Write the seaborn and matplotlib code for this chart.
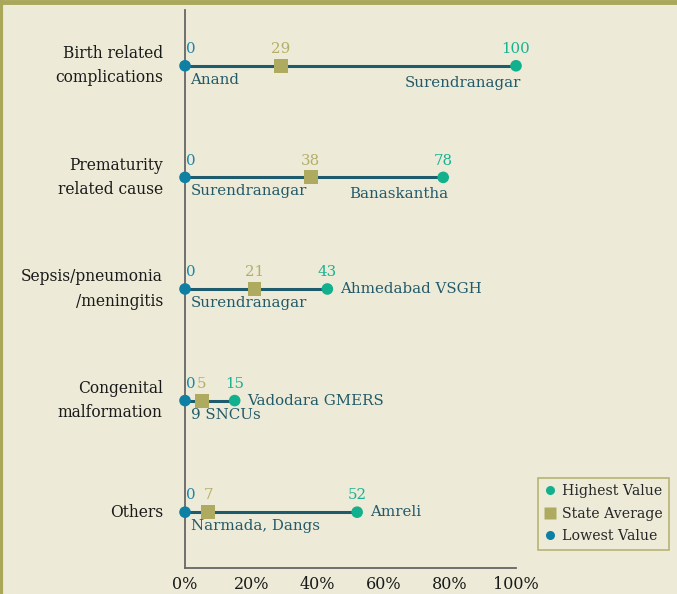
import matplotlib
matplotlib.use("Agg")
import matplotlib.pyplot as plt
from matplotlib.lines import Line2D
import pandas as pd
import seaborn as sns

# ── Data ────────────────────────────────────────────────────────────────────
causes = ["Birth related\ncomplications", "Prematurity\nrelated cause",
          "Sepsis/pneumonia\n/meningitis", "Congenital\nmalformation", "Others"]
lowest = [0, 0, 0, 0, 0]
average = [29, 38, 21, 5, 7]
highest = [100, 78, 43, 15, 52]
lowest_place = ["Anand", "Surendranagar", "Surendranagar", "9 SNCUs", "Narmada, Dangs"]
highest_place = ["Surendranagar", "Banaskantha", "Ahmedabad VSGH", "Vadodara GMERS", "Amreli"]
x_ticks = [0, 20, 40, 60, 80, 100]

# ── Style ───────────────────────────────────────────────────────────────────
BG = "#edebd8"
OLIVE = "#a9a75a"
LINE = "#1e5b6c"
LOW_C = "#0f7fa3"
HIGH_C = "#12b08d"
AVG_C = "#aeaa5f"
PLACE_C = "#235a6a"

sns.set_style("white")
plt.rcParams["font.family"] = ["DejaVu Serif", "Liberation Serif"]

df = pd.DataFrame({"cause": causes, "low": lowest, "avg": average, "high": highest})
df["pos"] = range(len(df))

fig = plt.figure(figsize=(6.77, 5.94), dpi=100, facecolor=BG)
ax = fig.add_axes([0.2733, 0.0438, 0.7622 - 0.2733, 0.9832 - 0.0438], facecolor=BG)

ax.hlines(df["pos"], df["low"], df["high"], color=LINE, lw=2.2, zorder=1)
sns.scatterplot(data=df, x="low", y="pos", ax=ax, color=LOW_C, s=70, clip_on=False,
                marker="o", edgecolor="none", zorder=3, legend=False)
sns.scatterplot(data=df, x="high", y="pos", ax=ax, color=HIGH_C, s=70, clip_on=False,
                marker="o", edgecolor="none", zorder=3, legend=False)
sns.scatterplot(data=df, x="avg", y="pos", ax=ax, color=AVG_C, s=100, clip_on=False,
                marker="s", edgecolor="none", zorder=4, legend=False)

fs = 10.8
for i, row in df.iterrows():
    y = row["pos"]
    ax.annotate(f"{row['low']}", (row["low"], y), xytext=(0.5, 7), textcoords="offset points",
                ha="left", va="bottom", color="#1b88aa", fontsize=fs)
    ax.annotate(f"{row['avg']}", (row["avg"], y), xytext=(0, 7), textcoords="offset points",
                ha="center", va="bottom", color="#b3ae68", fontsize=fs)
    ax.annotate(f"{row['high']}", (row["high"], y), xytext=(0, 7), textcoords="offset points",
                ha="center", va="bottom", color="#19b292", fontsize=fs)
    ax.annotate(lowest_place[i], (row["low"], y), xytext=(4, -5), textcoords="offset points",
                ha="left", va="top", color=PLACE_C, fontsize=fs)
    if row["high"] >= 70:
        ax.annotate(highest_place[i], (row["high"], y), xytext=(4, -7), textcoords="offset points",
                    ha="right", va="top", color=PLACE_C, fontsize=fs)
    else:
        ax.annotate(highest_place[i], (row["high"], y), xytext=(9, 0), textcoords="offset points",
                    ha="left", va="center", color=PLACE_C, fontsize=fs)

ax.set_xlim(0, 100)
ax.set_ylim(len(causes) - 0.5, -0.5)
ax.set_xticks(x_ticks)
ax.set_xticklabels([f"{t}%" for t in x_ticks], fontsize=11.5, color="#1a1a1a")
ax.set_yticks(df["pos"])
ax.set_yticklabels(causes, fontsize=11.2, color="#1a1a1a", ha="right", va="center",
                   linespacing=1.55)
ax.set_yticks([i - 0.5 for i in range(len(causes) + 1)], minor=True)
ax.tick_params(axis="y", which="major", length=0, pad=16)
ax.tick_params(axis="y", which="minor", length=5, width=1.2, color="#666666", direction="out")
ax.tick_params(axis="x", length=4, width=1.2, color="#666666", direction="out", pad=2)
ax.set_xlabel("")
ax.set_ylabel("")
sns.despine(ax=ax, top=True, right=True)
for side in ["left", "bottom"]:
    ax.spines[side].set_color("#666666")
    ax.spines[side].set_linewidth(1.3)

handles = [
    Line2D([], [], marker="o", color="none", markerfacecolor=HIGH_C, markeredgecolor="none",
           markersize=6.5, label="Highest Value"),
    Line2D([], [], marker="s", color="none", markerfacecolor=AVG_C, markeredgecolor="none",
           markersize=8, label="State Average"),
    Line2D([], [], marker="o", color="none", markerfacecolor=LOW_C, markeredgecolor="none",
           markersize=6.5, label="Lowest Value"),
]
leg = fig.legend(handles=handles, loc="upper left", bbox_to_anchor=(538 / 677, 1 - 478 / 594),
                 frameon=True, fontsize=10.2, handlelength=0.8, handletextpad=0.45,
                 labelspacing=0.6, borderpad=0.45, borderaxespad=0, fancybox=False)
leg.get_frame().set_facecolor(BG)
leg.get_frame().set_edgecolor(OLIVE)
leg.get_frame().set_linewidth(1.2)

# frame around the panel (top and left edges visible)
fig.add_artist(Line2D([0, 1], [1 - 2 / 594, 1 - 2 / 594], color=OLIVE, lw=3.5,
                      transform=fig.transFigure))
fig.add_artist(Line2D([1 / 677, 1 / 677], [0, 1], color=OLIVE, lw=3,
                      transform=fig.transFigure))

fig.savefig("out.png", dpi=100, facecolor=BG)
